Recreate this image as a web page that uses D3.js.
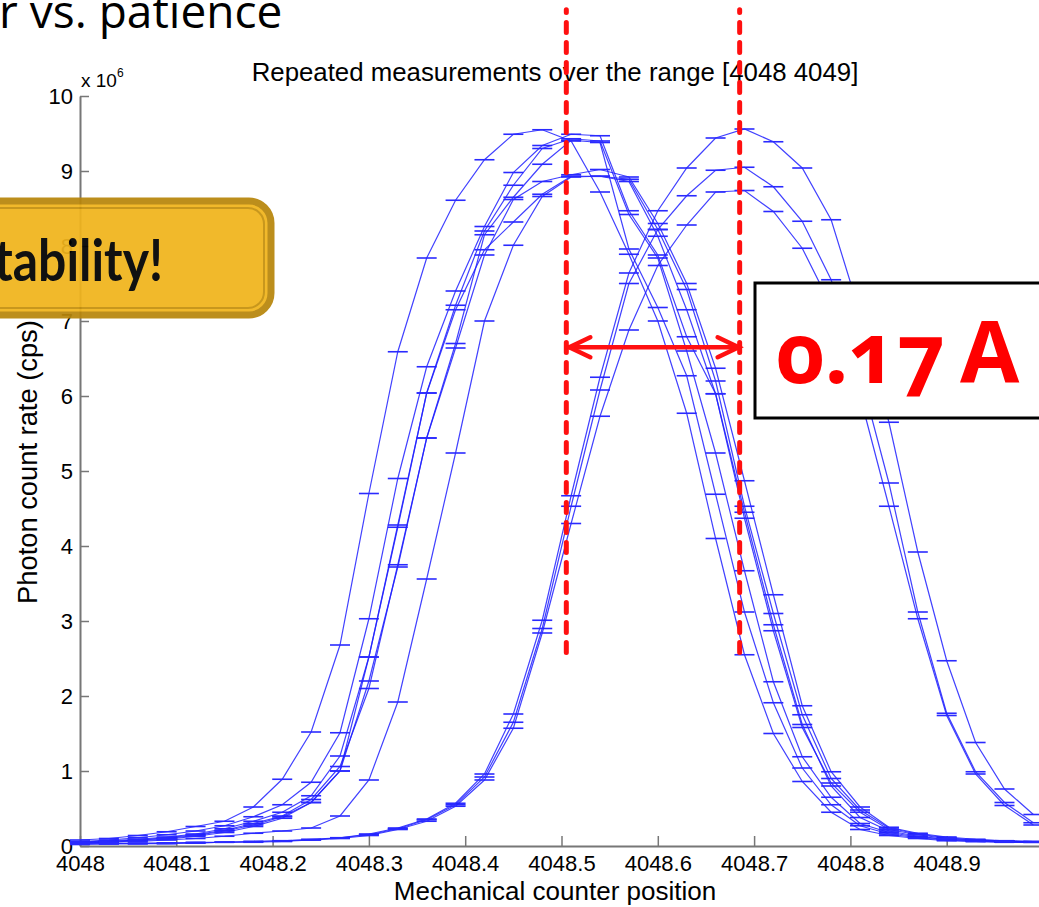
<!DOCTYPE html>
<html>
<head>
<meta charset="utf-8">
<script src="https://cdn.jsdelivr.net/npm/d3@7"></script>
<style>
  html, body { margin: 0; padding: 0; background: #ffffff; }
  svg { display: block; }
</style>
</head>
<body>
<svg id="chart" width="1039" height="907"></svg>
<script>
// ---------------- DATA ----------------
// Mechanical counter positions (x grid of the scan)
const positions = [4048.00,4048.03,4048.06,4048.09,4048.12,4048.15,4048.18,4048.21,4048.24,4048.27,
                   4048.30,4048.33,4048.36,4048.39,4048.42,4048.45,4048.48,4048.51,4048.54,4048.57,
                   4048.60,4048.63,4048.66,4048.69,4048.72,4048.75,4048.78,4048.81,4048.84,4048.87,
                   4048.90,4048.93,4048.96,4048.99];

// Photon count rate, in units of 10^6 cps – one array per repeated scan
const scanA1 = [0.08,0.10,0.14,0.19,0.26,0.33,0.52,0.89,1.52,2.68,4.70,6.59,7.84,8.61,9.15,9.49,9.55,9.40,8.72,7.89,7.00,5.77,4.10,2.55,1.50,0.86,0.45,0.22,0.14,0.10,0.07,0.06,0.05,0.05];
const scanA2 = [0.06,0.08,0.11,0.15,0.20,0.27,0.39,0.55,0.85,1.51,3.03,4.90,6.39,7.40,8.26,8.98,9.34,9.49,9.47,8.47,7.88,6.79,6.03,4.45,2.95,1.62,0.80,0.38,0.20,0.13,0.09,0.07,0.06,0.05];
const scanA3 = [0.05,0.07,0.09,0.12,0.16,0.23,0.33,0.45,0.67,1.20,2.52,4.25,6.04,7.21,8.20,8.81,9.30,9.43,9.40,8.42,7.84,6.60,5.24,3.67,2.19,1.19,0.65,0.30,0.18,0.12,0.09,0.07,0.06,0.05];
const scanA4 = [0.05,0.06,0.08,0.11,0.15,0.21,0.30,0.40,0.62,1.06,2.10,3.75,5.44,6.70,8.15,8.65,9.09,9.41,9.38,7.96,7.18,6.27,4.69,3.12,1.91,1.04,0.55,0.27,0.16,0.11,0.08,0.06,0.05,0.05];
const scanA5 = [0.05,0.06,0.08,0.10,0.14,0.20,0.28,0.39,0.58,1.00,2.20,3.72,5.44,6.64,7.88,8.62,8.86,8.95,9.02,8.92,8.30,7.50,6.37,4.87,3.35,1.87,0.99,0.52,0.25,0.17,0.12,0.09,0.07,0.06];
const scanA6 = [0.04,0.05,0.07,0.09,0.13,0.18,0.26,0.37,0.58,1.00,2.52,4.28,6.04,7.15,7.95,8.32,8.69,8.93,8.93,8.89,8.22,7.42,6.20,4.53,3.10,1.75,0.90,0.48,0.24,0.16,0.11,0.08,0.07,0.06];
const scanA7 = [0.04,0.05,0.06,0.08,0.10,0.13,0.17,0.20,0.24,0.40,0.88,1.92,3.56,5.24,7.00,8.01,8.66,8.92,8.93,8.86,8.13,7.15,6.03,4.37,2.87,1.58,0.84,0.45,0.22,0.15,0.10,0.08,0.06,0.05];
const scanB1 = [0.03,0.03,0.04,0.04,0.05,0.05,0.06,0.07,0.09,0.11,0.16,0.24,0.36,0.57,0.96,1.76,3.01,4.67,6.25,7.64,8.47,9.04,9.44,9.56,9.39,9.04,8.35,7.10,5.65,3.92,2.47,1.38,0.76,0.42];
const scanB2 = [0.03,0.03,0.03,0.04,0.04,0.05,0.06,0.07,0.08,0.11,0.15,0.23,0.35,0.55,0.92,1.65,2.90,4.53,6.08,7.50,8.22,8.67,9.01,9.05,8.79,8.33,7.55,6.30,4.84,3.12,1.77,0.99,0.58,0.31];
const scanB3 = [0.02,0.03,0.03,0.03,0.04,0.05,0.05,0.06,0.08,0.10,0.14,0.22,0.33,0.53,0.88,1.57,2.84,4.30,5.73,6.88,7.74,8.28,8.72,8.74,8.46,7.97,7.20,6.00,4.53,3.03,1.74,0.96,0.54,0.28];

const xTicks = [4048, 4048.1, 4048.2, 4048.3, 4048.4, 4048.5, 4048.6, 4048.7, 4048.8, 4048.9];
const xTickLabels = ["4048","4048.1","4048.2","4048.3","4048.4","4048.5","4048.6","4048.7","4048.8","4048.9"];
const yTicks = [0,1,2,3,4,5,6,7,8,9,10];
const yTickLabels = ["0","1","2","3","4","5","6","7","8","9","10"];

// annotation (peak positions marked on the slide)
const peakMarks = [4048.505, 4048.685];
const peakSpan = [2.58, 11.15];     // bottom / top of the dashed markers (10^6 cps)
const arrowLevel = 6.65;

const titleText = "Repeated measurements over the range [4048 4049]";
const xLabelText = "Mechanical counter position";
const yLabelText = "Photon count rate (cps)";

// ---------------- CHART ----------------
const svg = d3.select("#chart");
svg.append("rect").attr("width", 1039).attr("height", 907).attr("fill", "#fff");

const x = d3.scaleLinear().domain([4048, 4049]).range([80, 1043]);
const y = d3.scaleLinear().domain([0, 10]).range([846, 96]);

const FONT = "'Liberation Sans', Arial, Helvetica, sans-serif";

// axes
const xAxis = d3.axisBottom(x).tickValues(xTicks)
  .tickFormat((d, i) => xTickLabels[i]).tickSizeInner(-10).tickSizeOuter(0).tickPadding(9);
const yAxis = d3.axisLeft(y).tickValues(yTicks)
  .tickFormat((d, i) => yTickLabels[i]).tickSizeInner(-9).tickSizeOuter(0).tickPadding(7);

const gx = svg.append("g").attr("transform", `translate(0,${y(0)})`).call(xAxis);
const gy = svg.append("g").attr("transform", `translate(${x(4048)},0)`).call(yAxis);
[gx, gy].forEach(g => {
  g.select(".domain").attr("stroke", "#777").attr("stroke-width", 2);
  g.selectAll(".tick line").attr("stroke", "#777").attr("stroke-width", 1.5);
  g.selectAll(".tick text").attr("fill", "#000").style("font-family", FONT).style("font-size", "22px");
});

// exponent label
const ex = svg.append("text").attr("x", 81).attr("y", 87)
  .style("font-family", FONT).style("font-size", "19px").attr("fill", "#000");
ex.append("tspan").text("x 10");
ex.append("tspan").attr("dy", -10).style("font-size", "12px").text("6");

// title and labels
svg.append("text").attr("x", 555).attr("y", 81).attr("text-anchor", "middle")
  .style("font-family", FONT).style("font-size", "25.8px").attr("fill", "#000").text(titleText);
svg.append("text").attr("x", 555).attr("y", 900).attr("text-anchor", "middle")
  .style("font-family", FONT).style("font-size", "26px").attr("fill", "#000").text(xLabelText);
svg.append("text").attr("transform", "translate(37,462) rotate(-90)").attr("text-anchor", "middle")
  .style("font-family", FONT).style("font-size", "27.3px").attr("fill", "#000").text(yLabelText);

// series
const scans = [scanA1, scanA2, scanA3, scanA4, scanA5, scanA6, scanA7, scanB1, scanB2, scanB3];
const line = d3.line().x((d, i) => x(positions[i])).y(d => y(d));
const plot = svg.append("g");
scans.forEach(s => {
  plot.append("path").datum(s).attr("d", line)
    .attr("fill", "none").attr("stroke", "#2020ff").attr("stroke-width", 1.2).attr("stroke-opacity", 0.85);
  plot.append("g").selectAll("line").data(s).join("line")
    .attr("x1", (d, i) => x(positions[i]) - 10).attr("x2", (d, i) => x(positions[i]) + 10)
    .attr("y1", d => y(d)).attr("y2", d => y(d))
    .attr("stroke", "#2a2aff").attr("stroke-width", 1.6);
});

// ---------------- SLIDE OVERLAYS ----------------
// partial slide heading
svg.append("text").attr("x", -1).attr("y", 28)
  .style("font-family", "'Open Sans', 'Noto Sans', sans-serif").style("font-size", "46px")
  .attr("fill", "#000").text("r vs. patience");

// yellow callout
const yb = svg.append("g").attr("opacity", 0.93);
yb.append("rect").attr("x", -40).attr("y", 201).attr("width", 311).attr("height", 114).attr("rx", 22)
  .attr("fill", "#F0B41C").attr("stroke", "#B8860B").attr("stroke-width", 7);
yb.append("rect").attr("x", -32).attr("y", 208).attr("width", 296).attr("height", 100).attr("rx", 16)
  .attr("fill", "none").attr("stroke", "#C4900C").attr("stroke-width", 2);
yb.append("text").attr("transform", "translate(163,281) scale(0.86,1)").attr("text-anchor", "end")
  .style("font-family", "Lato, 'Open Sans', sans-serif").style("font-weight", "bold").style("font-size", "58px")
  .attr("fill", "#000").text("tability!");

// red dashed peak markers
peakMarks.forEach(p => {
  svg.append("line").attr("x1", x(p)).attr("x2", x(p)).attr("y1", y(peakSpan[0])).attr("y2", y(peakSpan[1]))
    .attr("stroke", "#ff1010").attr("stroke-width", 5).attr("stroke-dasharray", "10 10").attr("stroke-linecap", "round");
});
// double arrow
const ay = y(arrowLevel);
const xa = x(peakMarks[0]) + 3, xb = x(peakMarks[1]) - 1;
const arr = svg.append("g").attr("stroke", "#ff1010").attr("stroke-width", 4.5).attr("stroke-linecap", "round").attr("fill", "none");
arr.append("line").attr("x1", xa).attr("x2", xb).attr("y1", ay).attr("y2", ay);
arr.append("path").attr("d", `M${xa + 21},${ay - 10} L${xa},${ay} L${xa + 21},${ay + 10}`);
arr.append("path").attr("d", `M${xb - 21},${ay - 10} L${xb},${ay} L${xb - 21},${ay + 10}`);

// value box
svg.append("rect").attr("x", 755).attr("y", 283).attr("width", 320).attr("height", 135)
  .attr("fill", "#fff").attr("stroke", "#000").attr("stroke-width", 3);
const vt = svg.append("g").attr("fill", "#ff0000")
  .style("font-family", "'Open Sans', 'Noto Sans', sans-serif").style("font-weight", "bold");
vt.append("text").attr("x", 776).attr("y", 383).style("font-size", "84px")
  .style("font-variant-numeric", "oldstyle-nums").text("0.17");
vt.append("text").attr("x", 960).attr("y", 383).style("font-size", "86px").text("A");
</script>
</body>
</html>
